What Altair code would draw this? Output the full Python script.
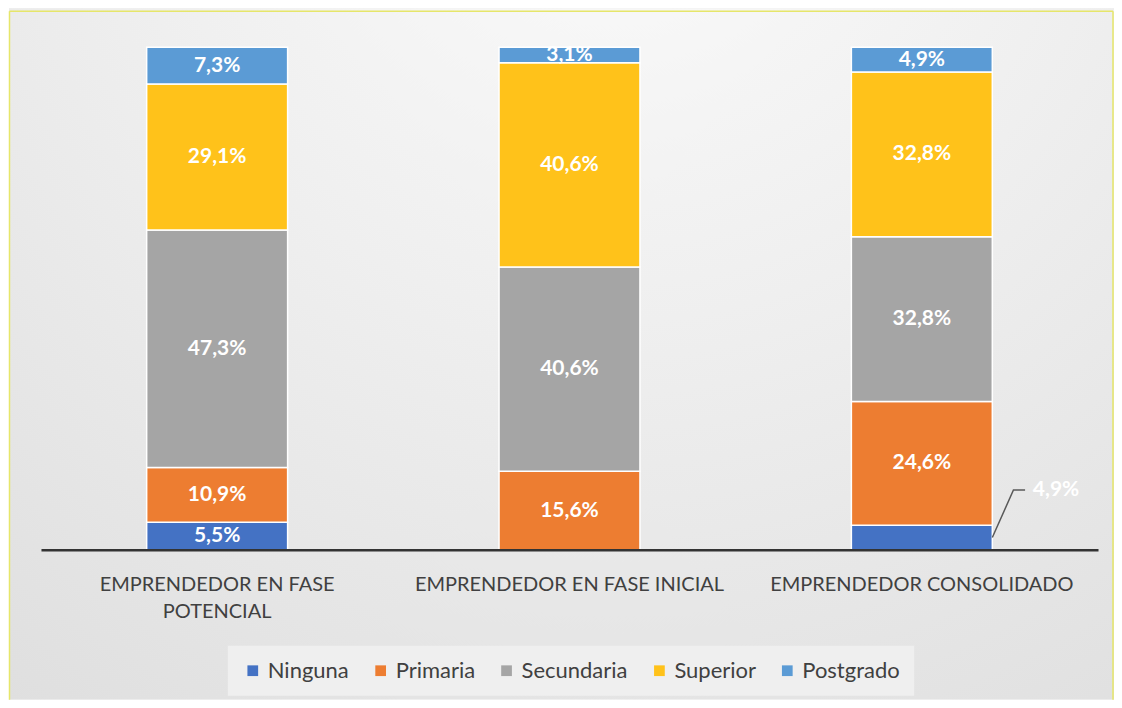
import altair as alt
import pandas as pd

categories = ["EMPRENDEDOR EN FASE POTENCIAL", "EMPRENDEDOR EN FASE INICIAL", "EMPRENDEDOR CONSOLIDADO"]
series = ["Ninguna", "Primaria", "Secundaria", "Superior", "Postgrado"]
colors = ["#4472C4", "#ED7D31", "#A5A5A5", "#FFC21A", "#5B9BD5"]

ninguna = [5.5, 0.0, 4.9]
primaria = [10.9, 15.6, 24.6]
secundaria = [47.3, 40.6, 32.8]
superior = [29.1, 40.6, 32.8]
postgrado = [7.3, 3.1, 4.9]

values = [ninguna, primaria, secundaria, superior, postgrado]
rows = []
for si, (s, vals) in enumerate(zip(series, values)):
    for ci, c in enumerate(categories):
        rows.append({"category": c, "series": s, "order": si, "value": vals[ci]})
df = pd.DataFrame(rows)

# band layout (in steps): outer padding 0.3, bar width 0.4
PAD_IN, PAD_OUT = 0.6, 0.3
BAND = 1 - PAD_IN

# label shown outside the bar with a leader line (Ninguna, consolidated)
outside_ci = 2
outside_cat = categories[outside_ci]
outside_series = "Ninguna"
col_total = sum(v[outside_ci] for v in values)
seg_mid = ninguna[outside_ci] / 2 / col_total
label_y = 0.119
bar_right = PAD_OUT + outside_ci + BAND
leader_x = [bar_right, bar_right + 0.06, bar_right + 0.093]
leader_yv = [seg_mid, label_y, label_y]
leader_df = pd.DataFrame({"x": leader_x, "y": leader_yv})
text_df = pd.DataFrame({
    "x": [bar_right + 0.115], "y": [label_y],
    "label": [f"{ninguna[outside_ci]:.1f}".replace(".", ",") + "%"],
})
n_steps = len(categories) - PAD_IN + 2 * PAD_OUT

FONT = "Lato"
W, H = 1058, 503
# frame around the plot (decoration): offsets of the chart frame from the plot area
FL, FT, FR, FB = 32, 39, 16, 150

x_enc = alt.X(
    "category:N",
    sort=categories,
    title=None,
    scale=alt.Scale(paddingInner=PAD_IN, paddingOuter=PAD_OUT),
    axis=alt.Axis(
        labelAngle=0,
        labelFontSize=20,
        labelColor="#404040",
        labelFont=FONT,
        labelPadding=25,
        labelLineHeight=27,
        labelExpr="datum.label == 'EMPRENDEDOR EN FASE POTENCIAL' ? ['EMPRENDEDOR EN FASE', 'POTENCIAL'] : datum.label",
        labelLimit=400,
        ticks=False,
        domainColor="#333333",
        domainWidth=2.5,
        grid=False,
        zindex=2,
    ),
)

yscale = alt.Scale(domain=[0, 1])

base = alt.Chart(df)

bars = base.mark_bar(stroke="white", strokeWidth=1.5).encode(
    x=x_enc,
    y=alt.Y("value:Q", stack="normalize", scale=yscale, axis=None),
    color=alt.Color(
        "series:N",
        sort=series,
        scale=alt.Scale(domain=series, range=colors),
        legend=alt.Legend(
            title=None,
            orient="none",
            legendX=187,
            legendY=599,
            direction="horizontal",
            symbolType="square",
            symbolSize=115,
            symbolStrokeWidth=0,
            labelFontSize=22,
            labelFont=FONT,
            labelColor="#404040",
            labelOffset=4,
            columnPadding=20,
            fillColor="#efefef",
            padding=14,
            zindex=2,
        ),
    ),
    order=alt.Order("order:Q", sort="ascending"),
)

calc = (
    base.transform_joinaggregate(total="sum(value)", groupby=["category"])
    .transform_window(
        cum="sum(value)", sort=[alt.SortField("order")], groupby=["category"],
        frame=[None, 0],
    )
    .transform_calculate(
        mid="(datum.cum - datum.value / 2) / datum.total",
        label="replace(format(datum.value, '.1f'), '.', ',') + '%'",
    )
)

labels = calc.transform_filter(
    f"datum.value > 0 && !(datum.category == '{outside_cat}' && datum.series == '{outside_series}')"
).mark_text(
    color="white", fontSize=21, fontWeight="bold", font=FONT, baseline="middle"
).encode(
    x=alt.X("category:N", sort=categories),
    y=alt.Y("mid:Q", scale=yscale),
    text="label:N",
)

xq = alt.Scale(domain=[0, n_steps], nice=False, zero=False)

leader = alt.Chart(leader_df).mark_line(color="#595959", strokeWidth=1.5).encode(
    x=alt.X("x:Q", scale=xq, axis=None),
    y=alt.Y("y:Q", scale=yscale),
    order="x:Q",
)

out_text = alt.Chart(text_df).mark_text(
    color="white", fontSize=21, fontWeight="bold", font=FONT, align="left", baseline="middle"
).encode(
    x=alt.X("x:Q", scale=xq, axis=None),
    y=alt.Y("y:Q", scale=yscale),
    text="label:N",
)

# decorative chart frame: soft radial gradient and thin yellow border
one = pd.DataFrame({"k": [0]})
bg = alt.Chart(one).mark_rect(
    clip=False,
    fill={
        "gradient": "radial",
        "x1": 0.55, "y1": 0.02, "r1": 0,
        "x2": 0.55, "y2": 0.02, "r2": 1,
        "stops": [
            {"offset": 0, "color": "#fcfcfc"},
            {"offset": 0.45, "color": "#efefef"},
            {"offset": 1, "color": "#dedede"},
        ],
    },
).encode(
    x=alt.value(-FL), x2=alt.value(W + FR), y=alt.value(-FT), y2=alt.value(H + FB)
)
border_top = alt.Chart(one).mark_rule(clip=False, color="#e6e66a", strokeWidth=1.5).encode(
    x=alt.value(-FL + 0.5), x2=alt.value(W + FR - 1), y=alt.value(-FT + 3)
)
border_left = alt.Chart(one).mark_rule(clip=False, color="#e6e66a", strokeWidth=1.5).encode(
    x=alt.value(-FL + 0.5), y=alt.value(-FT + 3), y2=alt.value(H + FB)
)
border_right = alt.Chart(one).mark_rule(clip=False, color="#e6e66a", strokeWidth=1.5).encode(
    x=alt.value(W + FR - 1), y=alt.value(-FT + 3), y2=alt.value(H + FB)
)

chart = (
    alt.layer(
        bg, border_top, border_left, border_right,
        alt.layer(bars, labels), alt.layer(leader, out_text),
    )
    .resolve_scale(x="independent")
    .properties(
        width=W,
        height=H,
        padding=0,
        background="white",
    )
    .configure_view(stroke=None)
)

chart.save("out.html", embed_options={"renderer": "svg", "actions": False})
